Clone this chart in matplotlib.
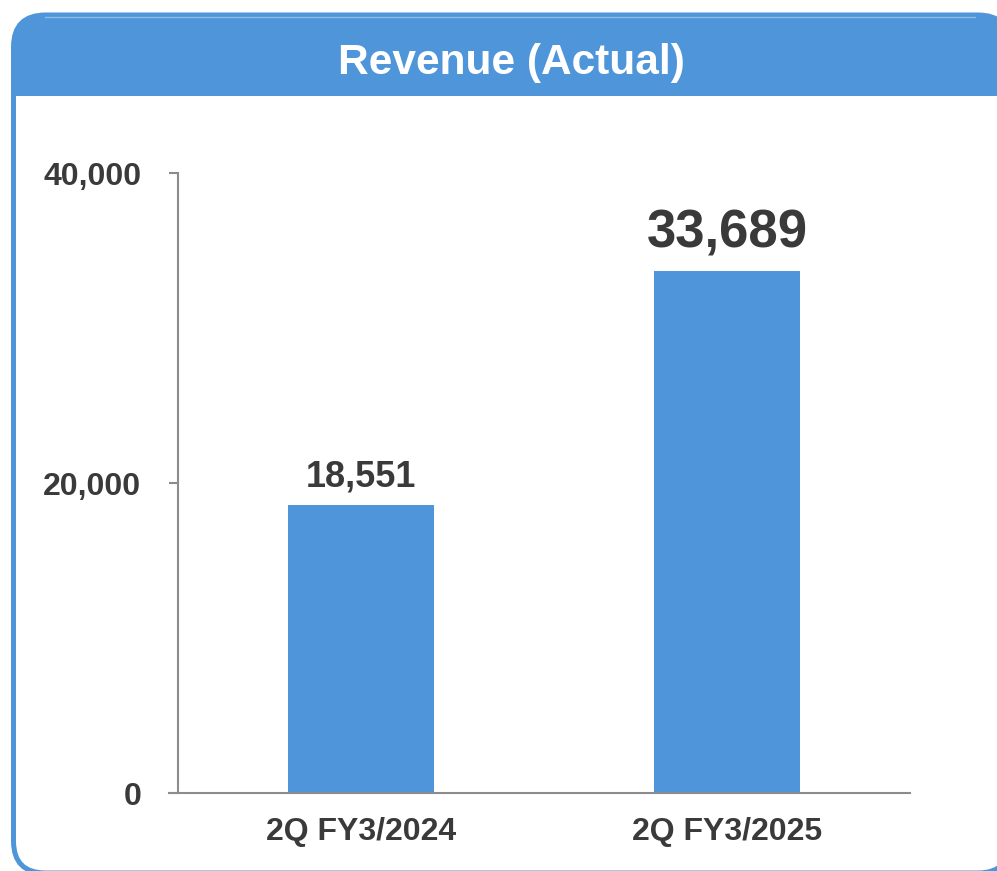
#! python3
# revenue_chart.py - bar chart of actual revenue, two half-year periods

import matplotlib
matplotlib.use('Agg')
import matplotlib.pyplot as plt
import matplotlib.ticker as ticker
from matplotlib.patches import FancyBboxPatch, Rectangle

# values
CATEGORIES = ['2Q FY3/2024', '2Q FY3/2025']
REVENUE = [18551, 33689]
LABEL_SIZES = [26, 38]          # value label font size, pt
LABEL_OFFSETS = [13.5, 16.5]    # baseline gap above bar, pt
Y_TICKS = [0, 20000, 40000]

TITLE = 'Revenue (Actual)'
BLUE = '#4f95d9'
TEXT = '#3a3a3a'
AXIS = '#8c8c8c'

W, H = 997, 871
DPI = 100


def main():
    plt.rcParams['font.family'] = ['Liberation Sans', 'DejaVu Sans']
    plt.rcParams['font.weight'] = 'bold'

    fig = plt.figure(figsize=(W / DPI, H / DPI), dpi=DPI)

    # background layer in pixel coords (y down)
    bg = fig.add_axes([0, 0, 1, 1])
    bg.set_xlim(0, W)
    bg.set_ylim(H, 0)
    bg.axis('off')

    # rounded frame, right and bottom edges run off the picture
    frame = FancyBboxPatch((13.5, 15), 1010 - 13.5, 858,
                           boxstyle='round,pad=0,rounding_size=32',
                           facecolor='white', edgecolor=BLUE, linewidth=3.6)
    bg.add_patch(frame)
    header = Rectangle((0, 0), W + 20, 96, facecolor=BLUE, edgecolor='none')
    header.set_clip_path(frame)
    bg.add_patch(header)
    # faint highlight line along the top of the header
    bg.plot([45, 975], [17, 17], color='#8dbbe8', lw=1.0)
    bg.text(511, 63, TITLE, color='white', fontsize=30.5, fontweight='bold',
            ha='center', va='center')

    # chart axes
    ax = fig.add_axes([178 / W, (H - 793) / H, 732 / W, 620 / H])
    x = list(range(len(CATEGORIES)))
    bars = ax.bar(x, REVENUE, width=0.4, color=BLUE, zorder=2)
    ax.set_xlim(-0.5, 1.5)
    ax.set_ylim(0, 40000)
    ax.set_facecolor('none')

    for bar, val, size, off in zip(bars, REVENUE, LABEL_SIZES, LABEL_OFFSETS):
        ax.annotate(format(val, ','), (bar.get_x() + bar.get_width() / 2, val),
                    xytext=(0, off), textcoords='offset points',
                    ha='center', va='baseline', fontsize=size,
                    fontweight='bold', color=TEXT, annotation_clip=False)

    ax.set_xticks(x)
    ax.set_xticklabels(CATEGORIES)
    ax.set_yticks(Y_TICKS)
    ax.yaxis.set_major_formatter(ticker.FuncFormatter(lambda v, p: format(int(v), ',')))

    for side in ('top', 'right'):
        ax.spines[side].set_visible(False)
    for side in ('left', 'bottom'):
        ax.spines[side].set_color(AXIS)
        ax.spines[side].set_linewidth(1.5)
    ax.spines['bottom'].set_bounds(-0.5 - 9 / 366, 1.5)

    ax.tick_params(axis='y', direction='out', length=6.5, width=1.5, color=AXIS,
                   labelsize=23, labelcolor=TEXT, pad=20)
    ax.tick_params(axis='x', length=0, labelsize=23, labelcolor=TEXT, pad=17)
    for lab in ax.get_xticklabels() + ax.get_yticklabels():
        lab.set_fontweight('bold')

    fig.savefig('out.png', dpi=DPI)


if __name__ == '__main__':
    main()
